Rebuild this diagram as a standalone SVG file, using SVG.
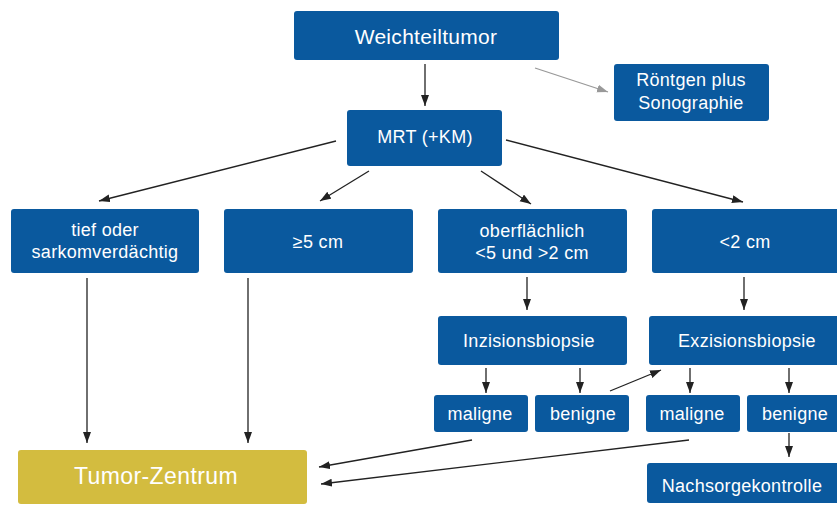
<svg xmlns="http://www.w3.org/2000/svg" width="837" height="506" viewBox="0 0 837 506">
<style>
.b{fill:#0a599e}
.y{fill:#d3bc3f}
text{font-family:"Liberation Sans",Arial,sans-serif;fill:#fff;text-anchor:middle;font-size:18px;letter-spacing:0.3px}
.c{fill:none;stroke:#222;stroke-width:1.3}
.g{fill:none;stroke:#999;stroke-width:1.3}
</style>
<defs>
<marker id="a" markerUnits="userSpaceOnUse" markerWidth="12" markerHeight="10" refX="11" refY="4" orient="auto"><path d="M0,0 L11,4 L0,8 Z" fill="#222"/></marker>
<marker id="ag" markerUnits="userSpaceOnUse" markerWidth="12" markerHeight="10" refX="11" refY="4" orient="auto"><path d="M0,0 L11,4 L0,8 Z" fill="#999"/></marker>
</defs>
<g id="connectors">
<line class="c" x1="425" y1="64" x2="425" y2="106" marker-end="url(#a)"/>
<line class="g" x1="535" y1="68" x2="608" y2="92" marker-end="url(#ag)"/>
<line class="c" x1="336" y1="141" x2="99" y2="201" marker-end="url(#a)"/>
<line class="c" x1="369" y1="171" x2="320" y2="201" marker-end="url(#a)"/>
<line class="c" x1="481" y1="171" x2="531" y2="204" marker-end="url(#a)"/>
<line class="c" x1="506" y1="140" x2="743" y2="202" marker-end="url(#a)"/>
<line class="c" x1="87" y1="278" x2="87" y2="443" marker-end="url(#a)"/>
<line class="c" x1="248" y1="278" x2="248" y2="443" marker-end="url(#a)"/>
<line class="c" x1="527" y1="277" x2="527" y2="310" marker-end="url(#a)"/>
<line class="c" x1="744" y1="277" x2="744" y2="310" marker-end="url(#a)"/>
<line class="c" x1="486" y1="368" x2="486" y2="393" marker-end="url(#a)"/>
<line class="c" x1="580" y1="368" x2="580" y2="393" marker-end="url(#a)"/>
<line class="c" x1="690" y1="368" x2="690" y2="393" marker-end="url(#a)"/>
<line class="c" x1="789" y1="368" x2="789" y2="393" marker-end="url(#a)"/>
<line class="c" x1="610" y1="391" x2="661" y2="370" marker-end="url(#a)"/>
<line class="c" x1="789" y1="433" x2="789" y2="457" marker-end="url(#a)"/>
<line class="c" x1="472" y1="440" x2="319" y2="467" marker-end="url(#a)"/>
<line class="c" x1="689" y1="440" x2="321" y2="484" marker-end="url(#a)"/>
</g>
<g id="weichteiltumor"><rect class="b" x="294" y="11" width="265" height="49" rx="3"/><text x="426" y="44" style="font-size:21px">Weichteiltumor</text></g>
<g id="roentgen"><rect class="b" x="614" y="64" width="155" height="57" rx="3"/><text x="691" y="86">Röntgen plus</text><text x="691" y="109">Sonographie</text></g>
<g id="mrt"><rect class="b" x="347" y="110" width="155" height="56" rx="3"/><text x="425" y="143">MRT (+KM)</text></g>
<g id="tief"><rect class="b" x="11" y="209" width="188" height="64" rx="3"/><text x="105" y="236">tief oder</text><text x="105" y="258">sarkomverdächtig</text></g>
<g id="ge5"><rect class="b" x="224" y="209" width="189" height="64" rx="3"/><text x="318" y="248">≥5 cm</text></g>
<g id="oberflaechlich"><rect class="b" x="438" y="209" width="189" height="64" rx="3"/><text x="532" y="237">oberflächlich</text><text x="532" y="259">&lt;5 und &gt;2 cm</text></g>
<g id="lt2"><rect class="b" x="652" y="209" width="190" height="64" rx="3"/><text x="745" y="248">&lt;2 cm</text></g>
<g id="inzision"><rect class="b" x="438" y="316" width="189" height="49" rx="3"/><text x="529" y="347">Inzisionsbiopsie</text></g>
<g id="exzision"><rect class="b" x="649" y="316" width="193" height="49" rx="3"/><text x="747" y="347">Exzisionsbiopsie</text></g>
<g id="maligne1"><rect class="b" x="434" y="395" width="94" height="37" rx="3"/><text x="480" y="420">maligne</text></g>
<g id="benigne1"><rect class="b" x="535" y="395" width="94" height="37" rx="3"/><text x="583" y="420">benigne</text></g>
<g id="maligne2"><rect class="b" x="646" y="395" width="94" height="37" rx="3"/><text x="692" y="420">maligne</text></g>
<g id="benigne2"><rect class="b" x="747" y="395" width="95" height="37" rx="3"/><text x="795" y="420">benigne</text></g>
<g id="nachsorge"><rect class="b" x="647" y="463" width="195" height="40" rx="3"/><text x="742" y="492">Nachsorgekontrolle</text></g>
<g id="tumorzentrum"><rect class="y" x="18" y="450" width="289" height="54" rx="3"/><text x="156" y="484" style="font-size:23px;letter-spacing:0.4px">Tumor-Zentrum</text></g>
</svg>
